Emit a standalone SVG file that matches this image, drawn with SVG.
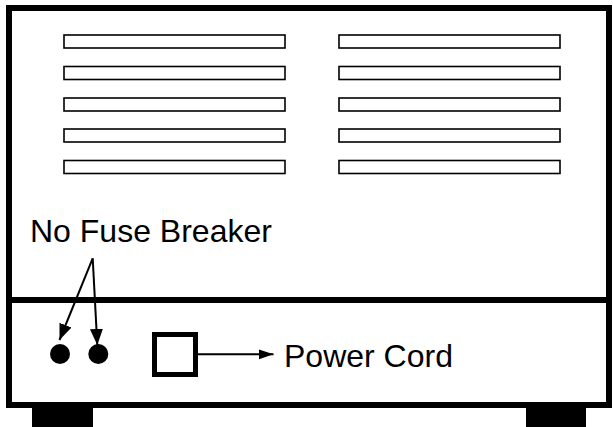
<svg xmlns="http://www.w3.org/2000/svg" width="613" height="427" viewBox="0 0 613 427">
<style>
.frame{fill:none;stroke:#000;stroke-width:6}
.slot{fill:#fff;stroke:#000;stroke-width:1.6}
.lbl{font-family:"Liberation Sans",Arial,sans-serif;font-size:32px;fill:#000}
.conn{stroke:#000;stroke-width:2;fill:none}
</style>
<defs>
<marker id="ah" markerUnits="userSpaceOnUse" markerWidth="17" markerHeight="14" refX="16" refY="7" orient="auto">
<path d="M0,0.5 L16,7 L0,13.5 Z" fill="#000"/>
</marker>
<marker id="ah2" markerUnits="userSpaceOnUse" markerWidth="16" markerHeight="12" refX="15" refY="6" orient="auto">
<path d="M0,1 L15,6 L0,11 Z" fill="#000"/>
</marker>
</defs>
<rect width="613" height="427" fill="#fff"/>
<g id="cabinet">
<rect class="frame" x="9" y="8" width="600" height="397"/>
<line x1="9" y1="300" x2="609" y2="300" stroke="#000" stroke-width="6"/>
</g>
<g id="vents">
<rect class="slot" x="64" y="35" width="221" height="13"/>
<rect class="slot" x="64" y="66.5" width="221" height="13"/>
<rect class="slot" x="64" y="98" width="221" height="13"/>
<rect class="slot" x="64" y="129" width="221" height="13"/>
<rect class="slot" x="64" y="160.5" width="221" height="13"/>
<rect class="slot" x="339" y="35" width="221" height="13"/>
<rect class="slot" x="339" y="66.5" width="221" height="13"/>
<rect class="slot" x="339" y="98" width="221" height="13"/>
<rect class="slot" x="339" y="129" width="221" height="13"/>
<rect class="slot" x="339" y="160.5" width="221" height="13"/>
</g>
<g id="feet">
<rect x="32" y="408" width="61" height="19" fill="#000"/>
<rect x="526" y="408" width="60" height="19" fill="#000"/>
</g>
<g id="breakers">
<circle cx="60" cy="354" r="10" fill="#000"/>
<circle cx="98.3" cy="354" r="10" fill="#000"/>
</g>
<g id="power-socket">
<rect x="154.5" y="334.5" width="41" height="40" fill="#fff" stroke="#000" stroke-width="5"/>
</g>
<g id="label-breaker">
<text class="lbl" x="30" y="242">No Fuse Breaker</text>
</g>
<g id="label-power">
<text class="lbl" x="284" y="367">Power Cord</text>
</g>
<g id="connectors">
<line class="conn" x1="92.7" y1="258.3" x2="59.5" y2="340" marker-end="url(#ah)"/>
<line class="conn" x1="92.7" y1="258.3" x2="97.3" y2="345" marker-end="url(#ah)"/>
<line class="conn" x1="198" y1="354.3" x2="273.5" y2="354.3" marker-end="url(#ah2)"/>
</g>
</svg>
